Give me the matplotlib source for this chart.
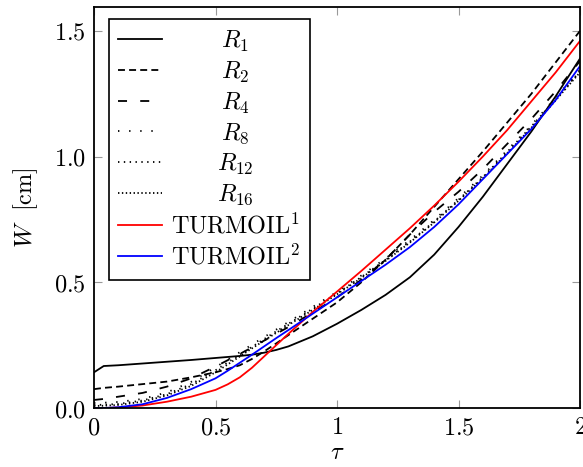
import matplotlib

matplotlib.use("Agg")
import matplotlib.pyplot as plt

plt.rcParams["mathtext.fontset"] = "cm"
plt.rcParams["font.family"] = "serif"
plt.rcParams["font.serif"] = ["DejaVu Serif"]
plt.rcParams["lines.scale_dashes"] = False

# time grid (tau) and the curve values
tau = [0.0, 0.04, 0.1, 0.2, 0.3, 0.4, 0.5, 0.55, 0.6, 0.65, 0.7, 0.75, 0.8, 0.9, 1.0,
       1.1, 1.2, 1.3, 1.4, 1.5, 1.6, 1.7, 1.8, 1.9, 2.0]

w_r1 = [0.142, 0.167, 0.170, 0.177, 0.184, 0.191, 0.199, 0.203, 0.207, 0.212, 0.220, 0.231, 0.245,
        0.285, 0.335, 0.39, 0.45, 0.52, 0.61, 0.72, 0.84, 0.97, 1.10, 1.24, 1.39]
w_r2 = [0.075, 0.080, 0.085, 0.095, 0.105, 0.122, 0.142, 0.155, 0.17, 0.195, 0.225, 0.257, 0.29,
        0.355, 0.42, 0.50, 0.59, 0.69, 0.80, 0.91, 1.02, 1.135, 1.25, 1.375, 1.50]
w_r4 = [0.032, 0.036, 0.045, 0.060, 0.085, 0.118, 0.165, 0.19, 0.215, 0.241, 0.268, 0.295, 0.322,
        0.38, 0.44, 0.51, 0.59, 0.69, 0.78, 0.86, 0.95, 1.05, 1.15, 1.26, 1.38]
w_r8 = [0.020, 0.021, 0.024, 0.036, 0.062, 0.104, 0.162, 0.192, 0.222, 0.252, 0.282, 0.312, 0.342,
        0.402, 0.462, 0.527, 0.595, 0.668, 0.748, 0.835, 0.925, 1.025, 1.125, 1.235, 1.345]
w_r12 = [0.012, 0.013, 0.016, 0.030, 0.055, 0.095, 0.150, 0.181, 0.212, 0.243, 0.274, 0.305, 0.335,
         0.395, 0.456, 0.521, 0.589, 0.662, 0.742, 0.828, 0.918, 1.018, 1.12, 1.228, 1.34]
w_r16 = [0.008, 0.009, 0.012, 0.025, 0.050, 0.088, 0.142, 0.173, 0.205, 0.237, 0.268, 0.299, 0.330,
         0.390, 0.452, 0.517, 0.585, 0.658, 0.738, 0.824, 0.914, 1.013, 1.115, 1.224, 1.335]
w_turmoil1 = [0.0, 0.0, 0.002, 0.010, 0.025, 0.045, 0.072, 0.094, 0.122, 0.16, 0.205, 0.25, 0.295,
              0.382, 0.463, 0.545, 0.63, 0.715, 0.805, 0.90, 1.00, 1.105, 1.22, 1.335, 1.46]
w_turmoil2 = [0.0, 0.0, 0.003, 0.015, 0.040, 0.075, 0.118, 0.148, 0.180, 0.212, 0.245, 0.278, 0.310,
              0.375, 0.44, 0.505, 0.57, 0.64, 0.72, 0.81, 0.91, 1.01, 1.11, 1.225, 1.36]

series = [
    (w_r1, r"$R_1$", "black", "-"),
    (w_r2, r"$R_2$", "black", (0, (5, 3))),
    (w_r4, r"$R_4$", "black", (0, (6.5, 9.5))),
    (w_r8, r"$R_8$", "black", (0, (1, 7))),
    (w_r12, r"$R_{12}$", "black", (0, (1, 3.2))),
    (w_r16, r"$R_{16}$", "black", (0, (1, 1.8))),
    (w_turmoil1, r"$\mathrm{TURMOIL}^1$", "red", "-"),
    (w_turmoil2, r"$\mathrm{TURMOIL}^2$", "blue", "-"),
]

xticks = [0, 0.5, 1, 1.5, 2]
xticklabels = [r"$0$", r"$0.5$", r"$1$", r"$1.5$", r"$2$"]
yticks = [0.0, 0.5, 1.0, 1.5]
yticklabels = [r"$0.0$", r"$0.5$", r"$1.0$", r"$1.5$"]

FS = 17.5

fig = plt.figure(figsize=(5.83, 4.67), dpi=100)
ax = fig.add_axes([94 / 583, 59 / 467, 486 / 583, 401 / 467])

for w, label, color, style in series:
    ax.plot(tau, w, color=color, linestyle=style, linewidth=1.3, label=label)

ax.set_xlim(0, 2)
ax.set_ylim(0, 1.595)
ax.set_xticks(xticks)
ax.set_xticklabels(xticklabels)
ax.set_yticks(yticks)
ax.set_yticklabels(yticklabels)
ax.tick_params(direction="in", length=6, width=0.8, color="#999999",
               top=True, right=True, labelsize=FS, pad=6)
for sp in ax.spines.values():
    sp.set_linewidth(1.3)

ax.set_xlabel(r"$\tau$", fontsize=FS, labelpad=1.5)
ax.set_ylabel(r"$W\ \ [\mathrm{cm}]$", fontsize=FS, labelpad=10)

leg = ax.legend(loc="upper left", bbox_to_anchor=(0.03, 0.97), borderaxespad=0,
                fontsize=FS, fancybox=False, framealpha=1, edgecolor="black",
                handlelength=1.8, handletextpad=0.35, labelspacing=0.24, borderpad=0.4)
leg.get_frame().set_linewidth(1.2)

# center the legend labels like pgfplots does
fig.canvas.draw()
renderer = fig.canvas.get_renderer()
texts = leg.get_texts()
widths = [t.get_window_extent(renderer).width for t in texts]
wmax = max(widths)
for t, w in zip(texts, widths):
    t.set_x((wmax - w) / 2)

fig.savefig("out.png", dpi=100)
